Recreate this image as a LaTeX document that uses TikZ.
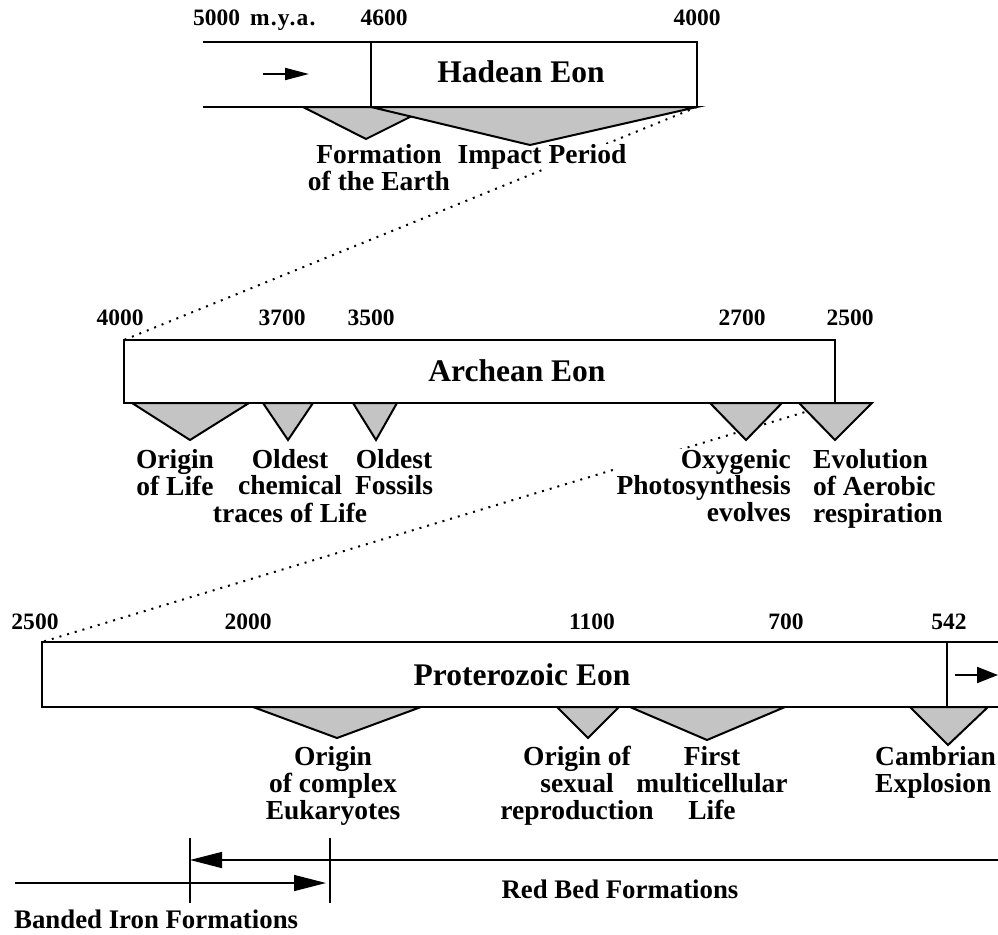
\documentclass[tikz,border=0pt]{standalone}
\usepackage{fontspec}
\setmainfont{Liberation Serif}
\usetikzlibrary{arrows.meta}
\definecolor{trigray}{RGB}{196,196,196}
\newcommand\stackc[1]{\begin{tabular}[t]{@{}c@{}}#1\end{tabular}}
\newcommand\stackl[1]{\begin{tabular}[t]{@{}l@{}}#1\end{tabular}}
\newcommand\stackr[1]{\begin{tabular}[t]{@{}r@{}}#1\end{tabular}}
\begin{document}
\begin{tikzpicture}[x=1pt,y=-1pt,
  eonbox/.style={draw, line width=2pt, fill=white, rectangle, inner sep=0pt, outer sep=0pt, anchor=north west},
  tri/.style={draw, line width=2pt, fill=trigray, line join=miter},
  dots/.style={line width=2pt, dash pattern=on 2pt off 6pt},
  num/.style={font=\bfseries\fontsize{23.5}{25}\selectfont, anchor=base, inner sep=0pt},
  eontitle/.style={font=\bfseries\fontsize{31.5}{33}\selectfont, anchor=base, inner sep=0pt},
  lbl/.style={font=\bfseries\fontsize{27.5}{26}\selectfont, anchor=base, inner sep=0pt},
  lblp/.style={font=\bfseries\fontsize{27.5}{27}\selectfont, anchor=base, inner sep=0pt},
  bot/.style={font=\bfseries\fontsize{26.8}{28}\selectfont, anchor=base, inner sep=0pt},
  thin/.style={line width=1.5pt},
  bigarrow/.style={line width=1.5pt, -{Triangle[length=32pt,width=16pt]}},
]
\useasboundingbox (0,0) rectangle (998,934);

% ---------- boxes (positions) ----------
\node[eonbox, minimum width=326pt, minimum height=65pt] (hadean) at (371,42) {};
\node[eonbox, minimum width=711pt, minimum height=63pt] (archean) at (124,340) {};
\node[eonbox, minimum width=905pt, minimum height=65pt] (protA) at (42,642) {};
\node[eonbox, minimum width=53pt, minimum height=65pt] (protB) at (947,642) {};

% ---------- dotted zoom lines ----------
\draw[dots] (hadean.south east) -- (archean.north west);
\draw[dots] (archean.south east) -- (protA.north west);

% ---------- labels ----------
\node[lbl] (formation) at (379,163) {\stackc{Formation\\of the Earth}};
\node[lbl, fill=white] (impact) at (542,163) {Impact Period};

\node[lbl] (originlife) at (175,468) {\stackc{Origin\\of Life}};
\node[lbl] (chemical) at (290,468) {\stackc{Oldest\\chemical\\traces of Life}};
\node[lbl] (fossils) at (394,468) {\stackc{Oldest\\Fossils}};
\node[lbl, fill=white, anchor=base east] (oxygenic) at (791,468) {\stackr{Oxygenic\\Photosynthesis\\evolves}};
\node[lbl, anchor=base west] (aerobic) at (813,468) {\stackl{Evolution\\of Aerobic\\respiration}};

\node[lblp] (eukaryotes) at (333,765) {\stackc{Origin\\of complex\\Eukaryotes}};
\node[lblp] (sexual) at (577,765) {\stackc{Origin of\\sexual\\reproduction}};
\node[lblp] (multicell) at (712,765) {\stackc{First\\multicellular\\Life}};
\node[lblp, anchor=base west] (cambrian) at (875,765) {\stackl{Cambrian\\Explosion}};

% ---------- Hadean ----------
\coordinate (htl) at (203,42);
\coordinate (hbl) at (203,107);
\draw[line width=2pt] (htl) -- (hadean.north west);
\draw[line width=2pt] (hbl) -- (hadean.south west);
\draw[tri] (303,107) -- (366,139) -- (430,107) -- cycle;
\draw[tri] (371,107) -- (530,145) -- (697,107) -- cycle;
\node[eonbox, minimum width=326pt, minimum height=65pt, fill=none] at (371,42) {};
\node[eontitle] (hadeanT) at (521,82) {Hadean Eon};
\coordinate (ha1) at (263,74);
\coordinate (ha2) at (309,74);
\draw[line width=2pt, -{Triangle[length=24pt,width=12pt]}] (ha1) -- (ha2);

\node[num, anchor=base west] (n5000) at (193,26) {5000\hspace{10pt}\addfontfeature{LetterSpace=5}m.y.a.};
\node[num] (n4600) at (384,26) {4600};
\node[num] (n4000a) at (697,26) {4000};

% ---------- Archean ----------
\draw[tri] (132,403) -- (190,440) -- (249,403) -- cycle;
\draw[tri] (263,403) -- (288,440) -- (313,403) -- cycle;
\draw[tri] (353,403) -- (376,440) -- (397,403) -- cycle;
\draw[tri] (710,403) -- (746,440) -- (782,403) -- cycle;
\draw[tri] (799,403) -- (835,440) -- (872,403) -- cycle;
\node[eontitle] (archeanT) at (517,381) {Archean Eon};

\node[num] (n4000b) at (120,325) {4000};
\node[num] (n3700) at (282,325) {3700};
\node[num] (n3500) at (371,325) {3500};
\node[num] (n2700) at (742,325) {2700};
\node[num] (n2500a) at (850,325) {2500};

% ---------- Proterozoic ----------
\draw[tri] (253,707) -- (337,738) -- (421,707) -- cycle;
\draw[tri] (557,707) -- (588,738) -- (619,707) -- cycle;
\draw[tri] (630,707) -- (707,740) -- (785,707) -- cycle;
\draw[tri] (910,707) -- (948,745) -- (988,707) -- cycle;
\node[eontitle] (protT) at (522,685) {Proterozoic Eon};
\coordinate (pa1) at (955,675);
\coordinate (pa2) at (998,675);
\draw[line width=2pt, -{Triangle[length=21pt,width=16pt]}] (pa1) -- (pa2);

\node[num] (n2500b) at (35,629) {2500};
\node[num] (n2000) at (248,629) {2000};
\node[num] (n1100) at (592,629) {1100};
\node[num] (n700) at (786,629) {700};
\node[num] (n542) at (949,629) {542};

% ---------- bottom formations ----------
\coordinate (t1a) at (190,838);
\coordinate (t1b) at (190,903);
\coordinate (t2a) at (330,838);
\coordinate (t2b) at (330,903);
\draw[thin] (t1a) -- (t1b);
\draw[thin] (t2a) -- (t2b);
\coordinate (redR) at (998,860);
\coordinate (redL) at (190,860);
\coordinate (bifL) at (15,883);
\coordinate (bifR) at (326,883);
\draw[bigarrow] (redR) -- (redL);
\draw[bigarrow] (bifL) -- (bifR);
\node[bot] (redbed) at (620,898) {Red Bed Formations};
\node[bot, anchor=base west] (banded) at (14,928) {Banded Iron Formations};
\end{tikzpicture}
\end{document}
